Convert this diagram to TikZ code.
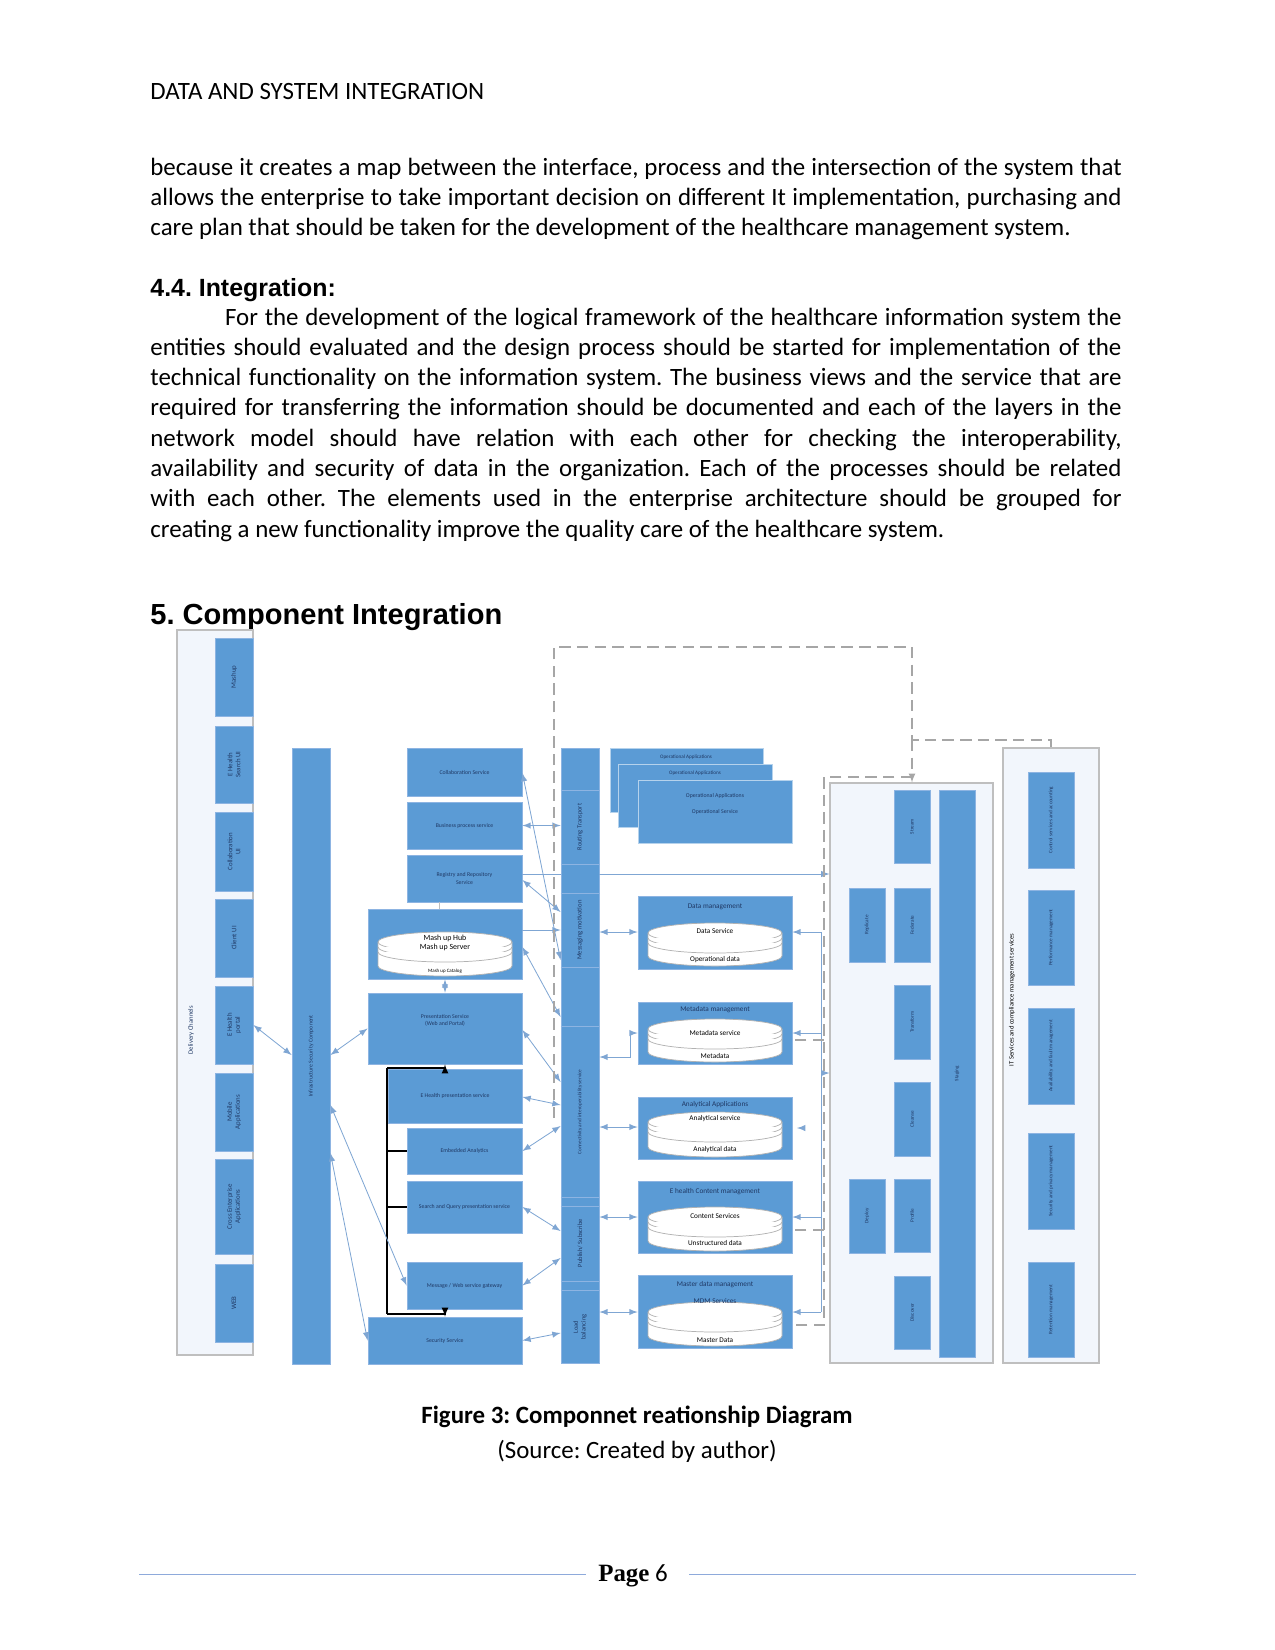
\documentclass[tikz,border=0pt]{standalone}
\usepackage{fontspec}
\setmainfont{Carlito}
\newfontfamily\headfont{Liberation Sans}
\newfontfamily\pagefont{Liberation Serif}
\usetikzlibrary{arrows}
\usetikzlibrary{fit}
\frenchspacing

\definecolor{boxblue}{HTML}{5B9BD5}
\definecolor{boxedge}{HTML}{8DB4E2}
\definecolor{ink}{HTML}{1F3864}
\definecolor{linkblue}{HTML}{7FA6D3}
\definecolor{dashgray}{HTML}{A6A6A6}
\definecolor{framegray}{HTML}{BFBFBF}
\definecolor{palefill}{HTML}{F2F6FC}
\definecolor{footline}{HTML}{8EAADB}

% layered data store drawn inside the management boxes
\newcommand\dbstack[4]{%
  \filldraw[cyl] ({#1-#4},{#2+10}) -- ({#1-#4},{#3-10})
    arc[start angle=180,end angle=0,x radius=#4,y radius=10]
    -- ({#1+#4},{#2+10})
    arc[start angle=0,end angle=-180,x radius=#4,y radius=10] -- cycle;
  \foreach \dy in {0,5,10}
    \draw[cyl] ({#1-#4},{#2+10+\dy}) arc[start angle=180,end angle=0,x radius=#4,y radius=10];
}

\tikzset{
  blk/.style={draw=boxedge, fill=boxblue, line width=0.4pt, inner sep=0pt},
  grp/.style={draw=framegray, fill=palefill, line width=0.5pt, inner sep=0pt},
  smalltxt/.style={text=ink, font=\fontsize{2.8}{3.4}\selectfont, align=center, inner sep=0pt},
  vtxt/.style={smalltxt, rotate=90},
  dtxt/.style={text=ink, font=\fontsize{3.5}{4.2}\selectfont, align=center, inner sep=0pt},
  cyl/.style={draw=gray!60, fill=white, line width=0.35pt},
  link/.style={draw=linkblue, line width=0.4pt},
  dlink/.style={draw=dashgray, line width=0.5pt, dash pattern=on 5.5pt off 3pt},
  brk/.style={draw=black, line width=0.5pt},
  bodytxt/.style={anchor=base west, inner sep=0pt, font=\fontsize{12}{14.6}\selectfont}
}

\begin{document}
\begin{tikzpicture}[x=0.016933cm, y=-0.016933cm]
\useasboundingbox (0,0) rectangle (1275,1650);

% page text
\node[bodytxt] (runhead) at (150,99) {DATA AND SYSTEM INTEGRATION};
\node[bodytxt, text width=468pt, align=justify] (intro) at (150,175)
  {because it creates a map between the interface, process and the intersection of the system that\linebreak
   allows the enterprise to take important decision on different It implementation, purchasing and\linebreak
   care plan that should be taken for the development of the healthcare management system.};
\node[bodytxt, font=\headfont\bfseries\fontsize{12}{14}\selectfont] (sec44) at (150,296) {4.4. Integration:};
\node[bodytxt, text width=468pt, align=justify] (integ) at (150,325)
  {\hspace*{36pt}For the development of the logical framework of the healthcare information system the\linebreak
   entities should evaluated and the design process should be started for implementation of the\linebreak
   technical functionality on the information system. The business views and the service that are\linebreak
   required for transferring the information should be documented and each of the layers in the\linebreak
   network model should have relation with each other for checking the interoperability,\linebreak
   availability and security of data in the organization. Each of the processes should be related\linebreak
   with each other. The elements used in the enterprise architecture should be grouped for\linebreak
   creating a new functionality improve the quality care of the healthcare system.};
\node[bodytxt, font=\headfont\bfseries\fontsize{14}{16}\selectfont] (sec5) at (150,624) {5. Component Integration};

% delivery channels
\node[grp, fit={(177,630) (253,1355)}] (deliv) {};
\node[vtxt, font=\fontsize{3.2}{3.8}\selectfont] at (191,1030) {Delivery Channels};
\foreach \ya/\yb/\nm/\lbl in {638/716/mashui/Mashup, 726/803/srchui/{E Health\\Search UI},
    812/891/collabui/{Collaboration\\UI}, 899/977/clientui/Client UI, 986/1064/portal/{E Health\\portal},
    1073/1151/mobile/{Mobile\\Applications}, 1159/1254/crossent/{Cross Enterprise\\Applications},
    1264/1342/web/WEB}
{
  \node[blk, fit={(215,\ya) (253,\yb)}] (\nm) {};
  \node[vtxt, font=\fontsize{3.3}{3.9}\selectfont] at (\nm) {\lbl};
}

\node[blk, fit={(292,748) (330,1364)}] (infra) {};
\node[vtxt] at (infra) {Infrastructure Security Component};

% services
\node[blk, fit={(407,748) (522,796)}] (collab) {};
\node[smalltxt] at (collab) {Collaboration Service};
\node[blk, fit={(407,802) (522,849)}] (bproc) {};
\node[smalltxt] at (bproc) {Business process service};
\node[blk, fit={(407,855) (522,902)}] (regis) {};
\node[smalltxt] at (regis) {Registry and Repository\\Service};
\node[blk, fit={(368,909) (522,979)}] (mashup) {};
\dbstack{445}{932}{976}{67}
\node[dtxt, text=black, font=\fontsize{3.8}{4.4}\selectfont] at (445,943) {Mash up Hub\\Mash up Server};
\node[smalltxt, text=black, font=\fontsize{2.4}{3}\selectfont] at (445,971) {Mash up Catalog};
\node[blk, fit={(368,993) (522,1064)}] (pres) {};
\node[smalltxt] at (445,1020) {Presentation Service\\(Web and Portal)};
\node[blk, fit={(388,1069) (522,1123)}] (ehpres) {};
\node[smalltxt] at (ehpres) {E Health presentation service};
\node[blk, fit={(407,1128) (522,1174)}] (embed) {};
\node[smalltxt] at (embed) {Embedded Analytics};
\node[blk, fit={(407,1181) (522,1233)}] (squery) {};
\node[smalltxt] at (squery) {Search and Query presentation service};
\node[blk, fit={(407,1262) (522,1309)}] (msggw) {};
\node[smalltxt] at (msggw) {Message / Web service gateway};
\node[blk, fit={(368,1317) (522,1364)}] (secsvc) {};
\node[smalltxt] at (secsvc) {Security Service};

\draw[framegray] (regis.south -| 439,0) -- (mashup.north -| 439,0);
\draw[link, latex-latex] (mashup.south) -- (pres.north);

% presentation bracket
\coordinate (brtop) at (387,1068);
\coordinate (brbot) at (387,1314);
\draw[brk] (brtop) -- (brbot);
\draw[brk, -latex] (brtop) -- (brtop -| pres.south) -- (pres.south);
\draw[brk, -latex] (brbot) -- (brbot -| secsvc.north) -- (secsvc.north);
\draw[brk] (embed.west) -- (embed.west -| brtop);
\draw[brk] (squery.west) -- (squery.west -| brtop);

% integration bus
\node[blk, fit={(561,748) (599,1363)}] (bus) {};
\foreach \yy in {790,864,893,967,1026,1197,1206,1281,1290}
  \draw[boxedge] (bus.west |- 0,\yy) -- (bus.east |- 0,\yy);
\node[vtxt, font=\fontsize{3.1}{3.7}\selectfont] at (580,827) {Routing Transport};
\node[vtxt, font=\fontsize{3.2}{3.8}\selectfont] at (580,930) {Messaging motivation};
\node[vtxt, font=\fontsize{2.5}{3}\selectfont] at (580,1112) {Connectivity and interoperability service};
\node[vtxt, font=\fontsize{3.1}{3.7}\selectfont] at (580,1243) {Publish/ Subscribe};
\node[vtxt, font=\fontsize{3.1}{3.7}\selectfont] at (580,1327) {Load\\balancing};

% operational applications
\node[blk, draw=white!55!boxblue, fit={(610,748) (763,812)}] (ops1) {};
\node[smalltxt, font=\fontsize{2.5}{3}\selectfont] at (686,757) {Operational Applications};
\node[blk, draw=white!55!boxblue, fit={(618,764) (772,827)}] (ops2) {};
\node[smalltxt, font=\fontsize{2.5}{3}\selectfont] at (695,773) {Operational Applications};
\node[blk, draw=white!55!boxblue, fit={(638,780) (792,843)}] (ops3) {};
\node[smalltxt] at (715,796) {Operational Applications};
\node[smalltxt] at (715,812) {Operational Service};

% data management
\node[blk, fit={(638,896) (792,969)}] (dmgmt) {};
\node[dtxt] at (715,907) {Data management};
\dbstack{715}{923}{966}{67}
\node[dtxt, text=black] at (715,931) {Data Service};
\node[dtxt, text=black] at (715,960) {Operational data};

\node[blk, fit={(638,1002) (792,1064)}] (meta) {};
\node[dtxt] at (715,1010) {Metadata management};
\dbstack{715}{1019}{1062}{67}
\node[dtxt, text=black] at (715,1033) {Metadata service};
\node[dtxt, text=black] at (715,1056) {Metadata};

\node[blk, fit={(638,1097) (792,1159)}] (anly) {};
\node[dtxt] at (715,1105) {Analytical Applications};
\dbstack{715}{1112}{1157}{67}
\node[dtxt, text=black] at (715,1119) {Analytical service};
\node[dtxt, text=black] at (715,1150) {Analytical data};

\node[blk, fit={(638,1181) (792,1253)}] (cont) {};
\node[dtxt] at (715,1192) {E health Content management};
\dbstack{715}{1207}{1251}{67}
\node[dtxt, text=black] at (715,1216) {Content Services};
\node[dtxt, text=black] at (715,1243) {Unstructured data};

\node[blk, fit={(638,1275) (792,1348)}] (mdm) {};
\node[dtxt] at (715,1285) {Master data management};
\dbstack{715}{1302}{1346}{67}
\node[dtxt] at (715,1301) {MDM Services};
\node[dtxt, text=black] at (715,1340) {Master Data};

% data integration hub
\node[grp, fit={(830,783) (993,1363)}] (datahub) {};
\foreach \xa/\ya/\yb/\nm/\lbl in {894/790/863/stream/Stream, 939/790/1357/staging/Staging,
    849/888/962/replic/Replicate, 894/888/962/feder/Federate, 894/985/1059/transf/Transform,
    894/1082/1156/cleanse/Cleanse, 849/1179/1253/deploy/Deploy, 894/1179/1252/profile/Profile,
    894/1276/1349/discov/Discover}
{
  \node[blk, fit={(\xa,\ya) ({\xa+36},\yb)}] (\nm) {};
  \node[vtxt, font=\fontsize{2.5}{3}\selectfont] at (\nm) {\lbl};
}

% IT services
\node[grp, fit={(1003,748) (1099,1363)}] (itsvc) {};
\node[vtxt, text=black, font=\fontsize{3.2}{3.8}\selectfont] at (1012,1000) {IT Services and compliance management services};
\foreach \ya/\yb/\nm/\lbl in {772/868/ctrl/Control services and accounting, 890/985/perf/Performance management,
    1008/1104/avail/Availability and fault management, 1133/1229/secpriv/Security and privacy management,
    1262/1357/retent/Retention management}
{
  \node[blk, fit={(1028,\ya) (1074,\yb)}] (\nm) {};
  \node[vtxt, font=\fontsize{2.5}{3}\selectfont] at (\nm) {\lbl};
}

% channels and security layer
\draw[link, latex-latex] (portal.east) -- (infra.west |- 0,1055);
\draw[link, latex-latex] (infra.east |- 0,1055) -- (pres.west);
\draw[link, latex-latex] (infra.east |- 0,1105) -- (msggw.west);
\draw[link, latex-latex] (infra.east |- 0,1153) -- (secsvc.west);

% services to bus
\draw[link, latex-latex] (collab.east |- 0,773) -- (bus.west |- 0,960);
\draw[link, latex-latex] (bproc.east) -- (bus.west |- bproc.east);
\draw[link] (regis.east |- 0,874) -- (bus.west |- 0,874);
\draw[link, -latex] (bus.east |- 0,874) -- (datahub.west |- 0,874);
\draw[link, latex-latex] (regis.east |- 0,880) -- (bus.west |- 0,912);
\draw[link, -latex] (mashup.east |- 0,930) -- (bus.west |- 0,930);
\draw[link, latex-latex] (mashup.east |- 0,947) -- (bus.west |- 0,1017);
\draw[link, latex-latex] (pres.east |- 0,1030) -- (bus.west |- 0,1082);
\draw[link, latex-latex] (ehpres.east |- 0,1097) -- (bus.west |- 0,1105);
\draw[link, latex-latex] (embed.east) -- (bus.west |- 0,1126);
\draw[link, latex-latex] (squery.east) -- (bus.west |- 0,1231);
\draw[link, latex-latex] (msggw.east) -- (bus.west |- 0,1258);
\draw[link, latex-latex] (secsvc.east) -- (bus.west |- 0,1333);

% bus to data services
\draw[link, latex-latex] (bus.east |- 0,932) -- (dmgmt.west |- 0,932);
\draw[link, latex-latex] (bus.east |- 0,1057) -| (630,1033) -- (meta.west |- 0,1033);
\draw[link, latex-latex] (bus.east |- 0,1127) -- (anly.west |- 0,1127);
\draw[link, latex-latex] (bus.east |- 0,1217) -- (cont.west |- 0,1217);
\draw[link, latex-latex] (bus.east |- 0,1312) -- (mdm.west |- 0,1312);

% feeds from the integration hub
\draw[link] (821,932) -- (821,1312);
\draw[link, -latex] (821,932) -- (dmgmt.east |- 0,932);
\draw[link, -latex] (821,1033) -- (meta.east |- 0,1033);
\draw[link, -latex] (804,1128) -- (797,1128);
\draw[link, -latex] (821,1217) -- (cont.east |- 0,1217);
\draw[link, -latex] (821,1312) -- (mdm.east |- 0,1312);

% dashed governance paths
\draw[dlink] (554,1118) -- (554,647) -- (912,647) -- (912,740) -- (1051,740) -- (itsvc.north -| 1051,0);
\draw[dlink, -latex] (912,740) -- (datahub.north -| 912,0);
\draw[dlink] (912,777) -- (824,777) -- (824,1325) -- (mdm.east |- 0,1325);
\draw[dlink] (824,1040) -- (meta.east |- 0,1040);
\draw[dlink] (824,1230) -- (cont.east |- 0,1230);
\draw[link, -latex] (824,1073) -- (datahub.west |- 0,1073);

% caption and footer
\node[anchor=base, inner sep=0pt, font=\bfseries\fontsize{12}{14}\selectfont] (cap) at (637,1423)
  {Figure 3: Componnet reationship Diagram};
\node[anchor=base, inner sep=0pt, font=\fontsize{12}{14}\selectfont] (src) at (637,1458)
  {(Source: Created by author)};
\node[anchor=base, inner sep=0pt, font=\fontsize{12}{14}\selectfont] (pg) at (633,1581)
  {{\pagefont\bfseries Page} 6};
\draw[footline, line width=0.5pt] (139,1574) -- (586,1574);
\draw[footline, line width=0.5pt] (689,1574) -- (1136,1574);
\end{tikzpicture}
\end{document}
